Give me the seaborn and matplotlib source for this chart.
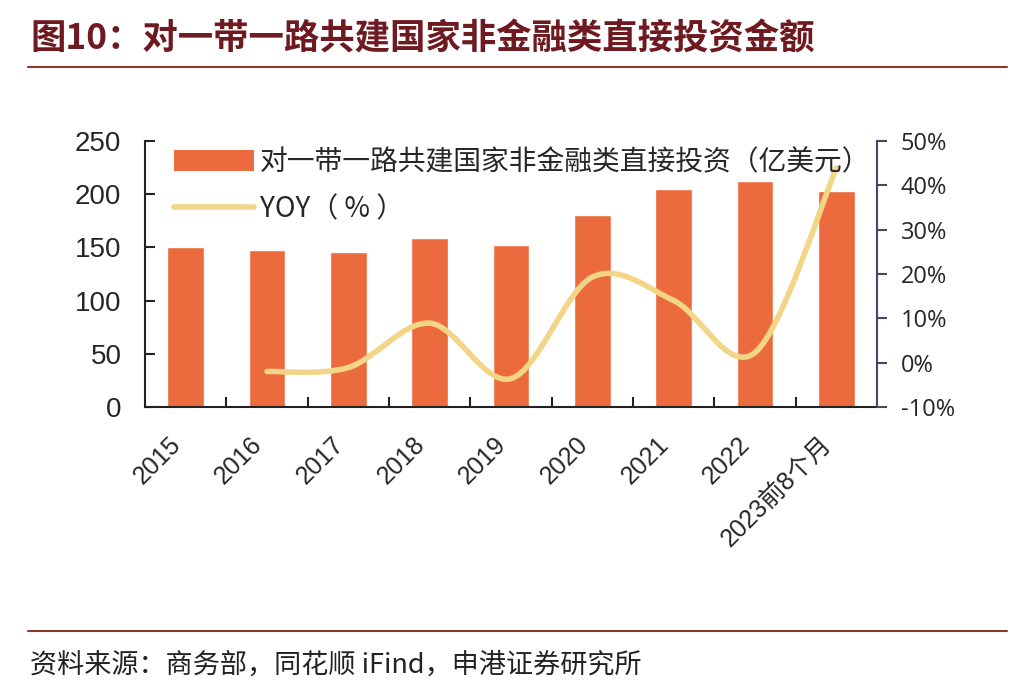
import matplotlib
matplotlib.use('Agg')
import matplotlib.pyplot as plt
import seaborn as sns
import pandas as pd
import numpy as np
from matplotlib.path import Path
from matplotlib.patches import PathPatch, Patch
from matplotlib.lines import Line2D
from matplotlib.ticker import FixedLocator

# Data
categories = ['2015', '2016', '2017', '2018', '2019', '2020', '2021', '2022', '2023前8个月']
investment = [150, 148, 146, 159, 152, 180, 205, 212, 203]   # 亿美元
yoy_cats = ['2016', '2017', '2018', '2019', '2020', '2021', '2022', '2023前8个月']
yoy = [-2.0, -1.1, 8.9, -3.6, 19.3, 14.0, 2.3, 43.9]        # %

bar_label = '对一带一路共建国家非金融类直接投资（亿美元）'
line_label = 'YOY（ % ）'
title = '图10：对一带一路共建国家非金融类直接投资金额'
source = '资料来源：商务部，同花顺 iFind，申港证券研究所'

df = pd.DataFrame({'year': categories, 'value': investment})

sns.set_style('white')
plt.rcParams['font.family'] = ['Liberation Sans', 'Noto Sans CJK SC', 'DejaVu Sans']
cjk = ['Noto Sans CJK SC', 'DejaVu Sans']

bar_color = '#EC6B3E'
line_color = '#F3D588'
axis_color = '#222222'

fig = plt.figure(figsize=(10.14, 7.0), dpi=100)
ax = fig.add_axes([0.143, 0.4186, 0.722, 0.38])

sns.barplot(data=df, x='year', y='value', color=bar_color, width=0.45,
            saturation=1, ax=ax, zorder=2)
ax.set_xlim(-0.5, len(categories) - 0.5)
ax.set_ylim(0, 250)
ax.set_yticks(range(0, 251, 50))
ax.set_xlabel('')
ax.set_ylabel('')

for s in ['top', 'right']:
    ax.spines[s].set_visible(False)
for s in ['left', 'bottom']:
    ax.spines[s].set_color(axis_color)
    ax.spines[s].set_linewidth(1.5)

ax.tick_params(axis='y', direction='in', length=7, width=1.5, color=axis_color,
               labelsize=20, pad=17, left=True)
ax.set_xticks(range(len(categories)))
ax.set_xticklabels(categories, rotation=45, ha='right', fontsize=18,
                   family=['Liberation Sans', 'Noto Sans CJK SC'])
ax.tick_params(axis='x', length=0, pad=18)
ax.xaxis.set_minor_locator(FixedLocator(np.arange(0.5, len(categories) - 1, 1.0)))
ax.tick_params(axis='x', which='minor', direction='in', length=7, width=1.5,
               color=axis_color, bottom=True)

# secondary axis for YOY
ax2 = ax.twinx()
ax2.set_ylim(-10, 50)
ax2.set_yticks(range(-10, 51, 10))
ax2.set_yticklabels([f'{v}%' for v in range(-10, 51, 10)],
                    family=['Open Sans', 'DejaVu Sans'])
ax2.tick_params(axis='y', direction='out', length=7, width=1.5, color='#4a4560',
                labelsize=17, pad=10)
for s in ['top', 'left', 'bottom']:
    ax2.spines[s].set_visible(False)
ax2.spines['right'].set_color('#4a4560')
ax2.spines['right'].set_linewidth(1.5)

# smooth YOY curve (cubic Bezier segments through the data points)
xs = [categories.index(c) for c in yoy_cats]
pts = np.column_stack([xs, yoy])
n = len(pts)
verts = [tuple(pts[0])]
codes = [Path.MOVETO]
for i in range(n - 1):
    p0 = pts[i - 1] if i > 0 else pts[i]
    p1 = pts[i]
    p2 = pts[i + 1]
    p3 = pts[i + 2] if i + 2 < n else pts[i + 1]
    c1 = p1 + (p2 - p0) / 6.0
    c2 = p2 - (p3 - p1) / 6.0
    verts += [tuple(c1), tuple(c2), tuple(p2)]
    codes += [Path.CURVE4] * 3
curve = PathPatch(Path(verts, codes), facecolor='none', edgecolor=line_color,
                  lw=4, capstyle='round', zorder=3, clip_on=False)
ax2.add_patch(curve)

# legend
handles = [Patch(facecolor=bar_color, edgecolor='none'),
           Line2D([0], [0], color=line_color, lw=4)]
leg = ax2.legend(handles, [bar_label, line_label], loc='upper left',
                 bbox_to_anchor=(0.005, 1.07), frameon=False, handlelength=2.9,
                 handleheight=0.8, handletextpad=0.2, labelspacing=0.6,
                 prop={'family': cjk, 'size': 20})

# title, rules and source
fig.text(0.03, 0.945, title, fontsize=25.5, fontweight='bold', color='#6E1A20',
         family=cjk, va='center')
fig.add_artist(Line2D([0.028, 0.993], [0.904, 0.904], color='#8B3A2A', lw=1.5))
fig.add_artist(Line2D([0.028, 0.993], [0.099, 0.099], color='#8B3A2A', lw=1.5))
fig.text(0.03, 0.05, source, fontsize=19.5, style='italic', color='#222222',
         family=cjk, va='center')

fig.savefig('out.png', dpi=100, facecolor='white')
